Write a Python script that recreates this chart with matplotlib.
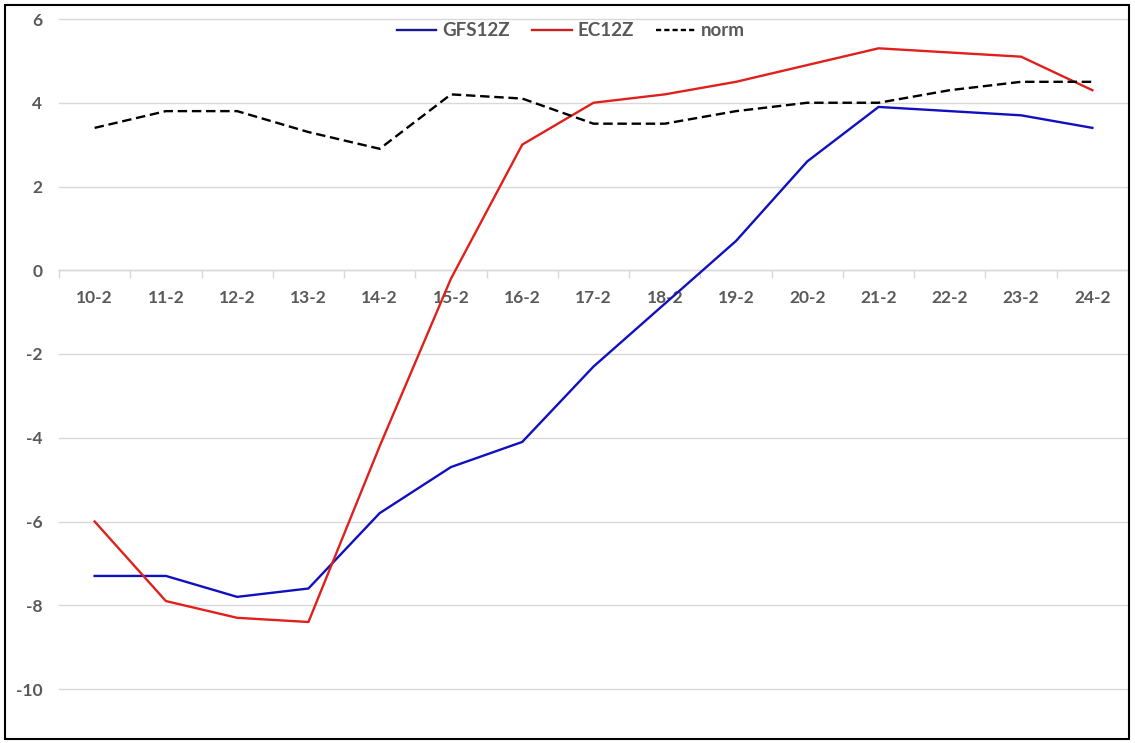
import matplotlib
matplotlib.use("Agg")
import matplotlib.pyplot as plt
from matplotlib.patches import Rectangle
from matplotlib.lines import Line2D
from matplotlib.ticker import FixedLocator, NullFormatter
import numpy as np

categories = ["10-2", "11-2", "12-2", "13-2", "14-2", "15-2", "16-2", "17-2",
              "18-2", "19-2", "20-2", "21-2", "22-2", "23-2", "24-2"]
gfs12z = [-7.3, -7.3, -7.8, -7.6, -5.8, -4.7, -4.1, -2.3, -0.8, 0.7, 2.6, 3.9, 3.8, 3.7, 3.4]
ec12z = [-6.0, -7.9, -8.3, -8.4, -4.2, -0.2, 3.0, 4.0, 4.2, 4.5, 4.9, 5.3, 5.2, 5.1, 4.3]
norm = [3.4, 3.8, 3.8, 3.3, 2.9, 4.2, 4.1, 3.5, 3.5, 3.8, 4.0, 4.0, 4.3, 4.5, 4.5]
y_ticks = [-10, -8, -6, -4, -2, 0, 2, 4, 6]

plt.rcParams['font.family'] = ['Lato', 'DejaVu Sans']
TXT = '#595959'
GRID = '#D9D9D9'

W, H = 1135, 743
fig = plt.figure(figsize=(W / 100, H / 100), dpi=100)
fig.patch.set_facecolor('white')

left, right, top, bottom = 59, 1128, 19, 689
ax = fig.add_axes([left / W, 1 - bottom / H, (right - left) / W, (bottom - top) / H])

x = np.arange(len(categories))
l1, = ax.plot(x, gfs12z, color='#1010C0', lw=1.7, label='GFS12Z', zorder=3)
l2, = ax.plot(x, ec12z, color='#E0201C', lw=1.7, label='EC12Z', zorder=3)
l3, = ax.plot(x, norm, color='black', lw=1.7, ls=(0, (4, 2)), label='norm', zorder=3)

ax.set_xlim(-0.5, len(categories) - 0.5)
ax.set_ylim(-10, 6)
ax.set_yticks(y_ticks)
ax.set_yticklabels([str(v) for v in y_ticks])
ax.yaxis.grid(True, color=GRID, lw=1)
for gl in ax.get_ygridlines():
    gl.set_clip_on(False)
ax.set_axisbelow(True)

for s in ['top', 'right', 'left']:
    ax.spines[s].set_visible(False)
ax.spines['bottom'].set_position(('data', 0))
ax.spines['bottom'].set_color(GRID)
ax.spines['bottom'].set_linewidth(1)

ax.set_xticks(x)
ax.set_xticklabels(categories)
ax.xaxis.set_minor_locator(FixedLocator(np.arange(-0.5, len(categories) + 0.5, 1)))
ax.xaxis.set_minor_formatter(NullFormatter())
ax.tick_params(axis='x', which='major', length=0, pad=14, labelsize=12.5, labelcolor=TXT)
ax.tick_params(axis='x', which='minor', length=6, color=GRID, width=1)
ax.tick_params(axis='y', length=0, pad=12, labelsize=12.5, labelcolor=TXT)
for t in ax.get_xticklabels() + ax.get_yticklabels():
    t.set_fontweight('bold')

h1 = Line2D([], [], color='#1A1A90', lw=1.7)
h2 = Line2D([], [], color='#C82020', lw=1.7)
h3 = Line2D([], [], color='black', lw=1.7, ls=(0, (2.2, 1.3)))
leg = fig.legend(handles=[h1, h2, h3], labels=['GFS12Z', 'EC12Z', 'norm'],
                 loc='center', bbox_to_anchor=(571 / W, 1 - 31 / H),
                 ncol=3, frameon=False, handlelength=2.1, handletextpad=0.3, columnspacing=1.2,
                 prop={'weight': 'bold', 'size': 13.5})
for t in leg.get_texts():
    t.set_color(TXT)

fig.add_artist(Rectangle((5 / W, 1 - 739 / H), (1129 - 5) / W, (739 - 5) / H,
                         transform=fig.transFigure, fill=False, edgecolor='black', lw=1.5))

fig.savefig('out.png', dpi=100)
